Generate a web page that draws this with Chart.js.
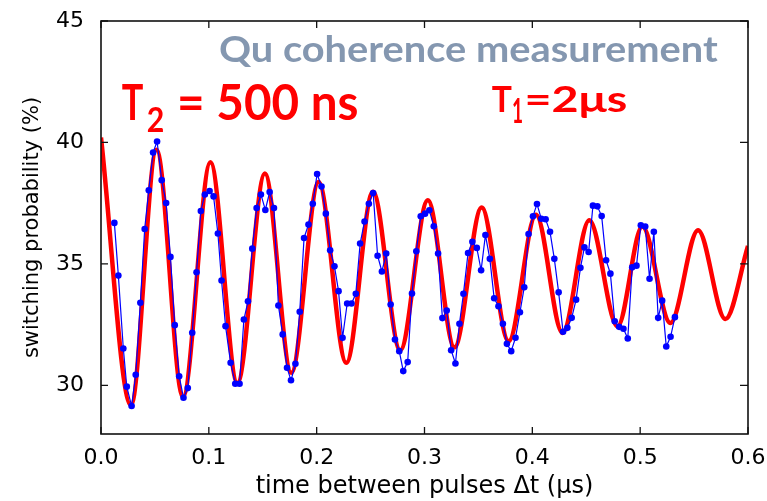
<!DOCTYPE html>
<html>
<head>
<meta charset="utf-8">
<script src="https://cdn.jsdelivr.net/npm/chart.js@4.4.0/dist/chart.umd.min.js"></script>
<style>
html,body{margin:0;padding:0;background:#ffffff;}
#wrap{width:767px;height:501px;position:relative;}
</style>
</head>
<body>
<div id="wrap"><canvas id="c" width="767" height="501"></canvas></div>
<script>
// ---- measured data (blue dots) ----
const measTime = [
  0.0124,0.0161,0.0207,0.0239,0.0284,0.0322,0.0365,0.0405,0.0443,0.0483,
  0.0520,0.0563,0.0604,0.0644,0.0684,0.0725,0.0765,0.0805,0.0846,0.0886,
  0.0926,0.0963,0.1007,0.1044,0.1084,0.1118,0.1155,0.1202,0.1245,0.1285,
  0.1325,0.1363,0.1403,0.1443,0.1483,0.1524,0.1564,0.1604,0.1645,0.1685,
  0.1725,0.1762,0.1803,0.1843,0.1883,0.1924,0.1964,0.2004,0.2045,0.2085,
  0.2125,0.2165,0.2203,0.2240,0.2283,0.2323,0.2363,0.2403,0.2444,0.2484,
  0.2524,0.2565,0.2605,0.2645,0.2686,0.2726,0.2766,0.2803,0.2844,0.2884,
  0.2924,0.2965,0.3005,0.3045,0.3086,0.3126,0.3166,0.3206,0.3247,0.3287,
  0.3324,0.3361,0.3404,0.3444,0.3485,0.3525,0.3565,0.3606,0.3646,0.3686,
  0.3727,0.3764,0.3804,0.3844,0.3885,0.3925,0.3965,0.4006,0.4043,0.4083,
  0.4123,0.4164,0.4204,0.4244,0.4285,0.4325,0.4365,0.4406,0.4446,0.4483,
  0.4522,0.4562,0.4603,0.4643,0.4684,0.4724,0.4764,0.4805,0.4845,0.4885,
  0.4926,0.4966,0.5006,0.5047,0.5087,0.5127,0.5167,0.5204,0.5242,0.5282,
  0.5322
];
const measProb = [
  36.69,34.52,31.52,29.95,29.15,30.44,33.40,36.44,38.03,39.59,
  40.04,38.45,37.51,35.29,32.48,30.38,29.49,29.89,32.17,34.66,
  37.18,37.86,38.00,37.78,36.25,34.32,32.44,30.93,30.07,30.07,
  32.71,33.46,35.63,37.30,37.86,37.22,37.96,37.30,33.29,32.10,
  30.73,30.21,30.89,33.03,36.07,36.62,37.48,38.70,38.19,37.07,
  35.56,34.90,33.88,31.96,33.37,33.37,33.77,35.84,36.75,37.48,
  37.92,35.34,34.69,35.43,33.33,31.89,31.41,30.59,30.96,33.78,
  35.52,36.96,37.07,37.21,36.55,35.43,32.77,33.08,31.45,30.90,
  32.54,33.77,35.45,35.91,35.66,34.74,36.19,35.21,33.59,33.26,
  32.54,31.71,31.41,31.96,33.01,34.04,36.23,36.96,37.47,36.86,
  36.84,36.32,35.21,33.83,32.21,32.37,32.78,33.53,34.84,35.68,
  35.49,37.40,37.37,36.97,35.15,34.60,32.64,32.41,32.33,31.93,
  34.86,34.93,36.59,36.54,34.39,36.32,32.78,33.49,31.60,32.00,
  32.81
];
// ---- fit curve (red), read at its turning points ----
const fitTime = [
  0.0, 0.0278, 0.0515, 0.0760, 0.1015, 0.1265, 0.1520, 0.1765, 0.2018, 0.2275,
  0.2522, 0.2775, 0.3031, 0.3278, 0.3530, 0.3780, 0.4034, 0.4280, 0.4528, 0.4790,
  0.5020, 0.5280, 0.5537, 0.5790, 0.6
];
const fitProb = [
  40.20, 29.18, 39.70, 29.52, 39.19, 30.10, 38.72, 30.52, 38.37, 30.93,
  37.97, 31.45, 37.62, 31.57, 37.32, 31.82, 37.02, 32.16, 36.80, 32.43,
  36.54, 32.57, 36.39, 32.73, 35.74
];
// ---- axes ----
const xTickValues = [0.0, 0.1, 0.2, 0.3, 0.4, 0.5, 0.6];
const yTickValues = [30, 35, 40, 45];
const xTitle = 'time between pulses \u0394t (\u03bcs)';
const yTitle = 'switching probability (%)';
const headline = 'Qu coherence measurement';
const t2Label = ['T', '2', '= 500 ns'];
const t1Label = ['T', '1', '=2\u03bcs'];

function drawFit(ctx, text, font, color, inkL, inkR, baseline) {
  ctx.save();
  ctx.font = font;
  ctx.fillStyle = color;
  ctx.textAlign = 'left';
  ctx.textBaseline = 'alphabetic';
  const m = ctx.measureText(text);
  const l = -m.actualBoundingBoxLeft;
  const r = m.actualBoundingBoxRight;
  const sx = (inkR - inkL) / (r - l);
  ctx.translate(inkL, baseline);
  ctx.scale(sx, 1);
  ctx.fillText(text, -l, 0);
  ctx.restore();
}

const framePlugin = {
  id: 'frame',
  afterDatasetsDraw(chart) {
    const ctx = chart.ctx;
    const {left, right, top, bottom} = chart.chartArea;
    const xs = chart.scales.x, ys = chart.scales.y;
    ctx.save();
    ctx.strokeStyle = '#111';
    ctx.lineWidth = 1.6;
    ctx.strokeRect(left, top, right - left, bottom - top);
    ctx.lineWidth = 1.3;
    ctx.beginPath();
    xTickValues.forEach(v => {
      const px = xs.getPixelForValue(v);
      ctx.moveTo(px, bottom); ctx.lineTo(px, bottom - 7);
      ctx.moveTo(px, top); ctx.lineTo(px, top + 7);
    });
    yTickValues.forEach(v => {
      const py = ys.getPixelForValue(v);
      ctx.moveTo(left, py); ctx.lineTo(left + 7, py);
      ctx.moveTo(right, py); ctx.lineTo(right - 8, py);
    });
    ctx.stroke();
    ctx.restore();
  },
  afterDraw(chart) {
    const ctx = chart.ctx;
    drawFit(ctx, headline, 'bold 37px Lato', '#8497b0', 220, 718, 62);
    drawFit(ctx, t2Label[0], 'bold 49px Lato', '#ff0000', 121.7, 143, 120);
    drawFit(ctx, t2Label[1], 'bold 35px Lato', '#ff0000', 147.7, 163.3, 131.7);
    drawFit(ctx, t2Label[2], 'bold 49px Lato', '#ff0000', 180, 357, 120);
    drawFit(ctx, t1Label[0], 'bold 37px Lato', '#ff0000', 491.7, 511.7, 112);
    drawFit(ctx, t1Label[1], 'bold 34px Lato', '#ff0000', 513, 522, 123.3);
    drawFit(ctx, t1Label[2], 'bold 37px Lato', '#ff0000', 527, 627, 112);
  }
};

const axisFont = {family: 'DejaVu Sans', size: 22};

new Chart(document.getElementById('c'), {
  type: 'line',
  data: {
    datasets: [
      {
        label: 'measurement',
        data: measTime.map((t, i) => ({x: t, y: measProb[i]})),
        borderColor: '#0000ff',
        backgroundColor: '#0000ff',
        borderWidth: 1.2,
        pointRadius: 3.3,
        pointBorderWidth: 0,
        pointBackgroundColor: '#0000ff',
        tension: 0,
        order: 0
      },
      {
        label: 'fit',
        data: fitTime.map((t, i) => ({x: t, y: fitProb[i]})),
        borderColor: '#ff0000',
        borderWidth: 4.5,
        pointRadius: 0,
        cubicInterpolationMode: 'monotone',
        order: 1
      }
    ]
  },
  options: {
    responsive: false,
    animation: false,
    devicePixelRatio: 1,
    layout: {padding: {top: 21, right: 19, left: 0, bottom: 0}},
    plugins: {legend: {display: false}, tooltip: {enabled: false}},
    scales: {
      x: {
        type: 'linear',
        min: 0, max: 0.6,
        afterBuildTicks: s => { s.ticks = xTickValues.map(v => ({value: v})); },
        afterFit: s => { s.height = 67; s.paddingLeft = 0; s.paddingRight = 0; },
        grid: {display: false},
        border: {display: false},
        ticks: {
          font: axisFont, color: '#000', padding: 3,
          maxRotation: 0, autoSkip: false,
          callback: v => Number(v).toFixed(1)
        },
        title: {
          display: true, text: xTitle, color: '#000',
          font: {family: 'DejaVu Sans', size: 24},
          padding: {top: 0, bottom: 0}
        }
      },
      y: {
        type: 'linear',
        min: 28, max: 45,
        afterBuildTicks: s => { s.ticks = yTickValues.map(v => ({value: v})); },
        afterFit: s => { s.width = 101; s.paddingTop = 0; s.paddingBottom = 0; },
        grid: {display: false},
        border: {display: false},
        ticks: {
          font: axisFont, color: '#000', padding: 9,
          autoSkip: false,
          callback: v => String(v)
        },
        title: {
          display: true, text: yTitle, color: '#000',
          font: {family: 'DejaVu Sans', size: 21},
          padding: {top: 20, bottom: 0}
        }
      }
    }
  },
  plugins: [framePlugin]
});
</script>
</body>
</html>
